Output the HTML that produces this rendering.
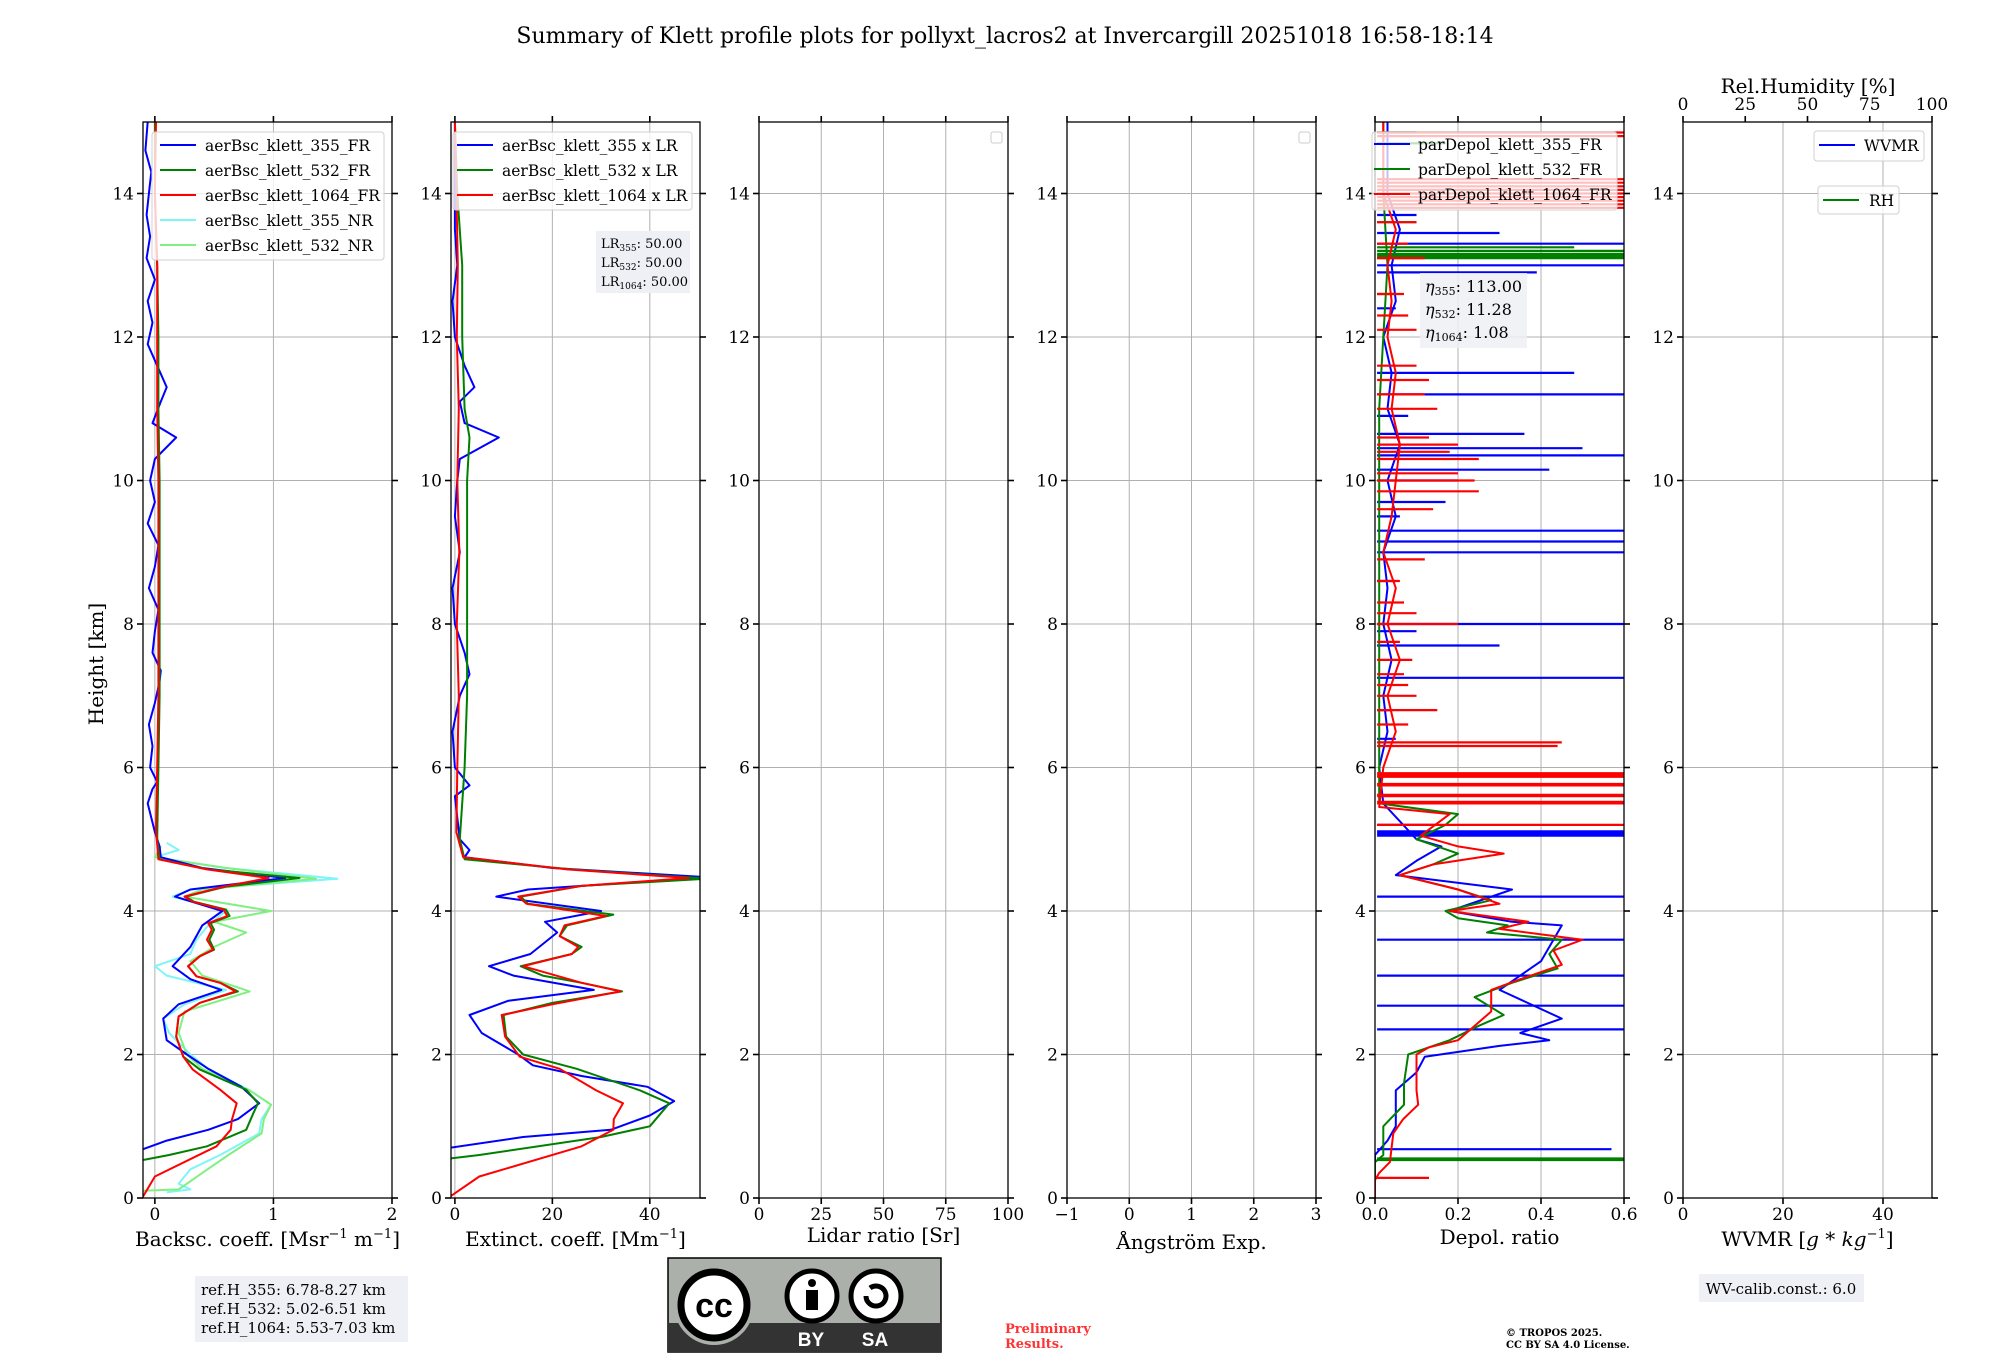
<!DOCTYPE html>
<html><head><meta charset="utf-8"><style>
html,body{margin:0;padding:0;background:#fff;}
svg{display:block;font-family:"DejaVu Serif","Liberation Serif",serif;}
</style></head><body>
<svg id="fig" width="2000" height="1360" viewBox="0 0 2000 1360" xmlns="http://www.w3.org/2000/svg">
<text x="1005" y="43" font-size="22" text-anchor="middle">Summary of Klett profile plots for pollyxt_lacros2 at Invercargill 20251018 16:58-18:14</text>
<text transform="translate(103,664) rotate(-90)" font-size="20" text-anchor="middle">Height [km]</text>
<g id="panels"></g>
<rect x="195" y="1276" width="213" height="66" fill="#eef0f5"/>
<text x="201" y="1295" font-size="15">ref.H_355: 6.78-8.27 km</text>
<text x="201" y="1314" font-size="15">ref.H_532: 5.02-6.51 km</text>
<text x="201" y="1333" font-size="15">ref.H_1064: 5.53-7.03 km</text>
<g>
<rect x="668" y="1258" width="273" height="94" fill="#abb1aa" stroke="#000" stroke-width="1.5"/>
<rect x="668" y="1323" width="273" height="29" fill="#333"/>
<circle cx="714" cy="1305" r="40" fill="#abb1aa"/>
<circle cx="714" cy="1305" r="33" fill="#fff" stroke="#000" stroke-width="7"/>
<text x="714" y="1317" font-size="34" font-weight="bold" text-anchor="middle" font-family="Liberation Sans, sans-serif">cc</text>
<circle cx="812" cy="1296" r="25" fill="#fff" stroke="#000" stroke-width="5"/>
<circle cx="812" cy="1283" r="4" fill="#000"/>
<rect x="806" y="1290" width="12" height="20" fill="#000"/>
<circle cx="876" cy="1296" r="25" fill="#fff" stroke="#000" stroke-width="5"/>
<path d="M866 1296 a10 10 0 1 0 4 -8" fill="none" stroke="#000" stroke-width="5"/>
<text x="811" y="1346" font-size="19" font-weight="bold" fill="#fff" text-anchor="middle" font-family="Liberation Sans, sans-serif">BY</text>
<text x="875" y="1346" font-size="19" font-weight="bold" fill="#fff" text-anchor="middle" font-family="Liberation Sans, sans-serif">SA</text>
</g>
<text x="1005" y="1333" font-size="13" font-weight="bold" fill="#ff3333">Preliminary</text>
<text x="1005" y="1348" font-size="13" font-weight="bold" fill="#ff3333">Results.</text>
<text x="1506" y="1336" font-size="10" font-weight="bold">© TROPOS 2025.</text>
<text x="1506" y="1348" font-size="10" font-weight="bold">CC BY SA 4.0 License.</text>
<rect x="1699" y="1274" width="165" height="28" fill="#eef0f5"/>
<text x="1781" y="1294" font-size="15" text-anchor="middle">WV-calib.const.: 6.0</text>
</svg>
<script>
// ---------- data ----------
const heightTicks = [0,2,4,6,8,10,12,14];
// Panel 1: backscatter
const bsc355FR_h = [0.68,0.8,0.95,1.1,1.32,1.55,1.8,2.0,2.2,2.5,2.7,2.9,3.05,3.23,3.5,3.8,4.0,4.2,4.3,4.46,4.6,4.75,4.9,5.1,5.3,5.5,5.7,5.8,6.0,6.3,6.6,6.9,7.2,7.35,7.6,7.9,8.2,8.5,8.8,9.1,9.4,9.7,10.0,10.3,10.6,10.8,11.1,11.3,11.6,11.9,12.2,12.5,12.8,13.1,13.4,13.7,14.0,14.3,14.6,15.0];
const bsc355FR_v = [-0.1,0.1,0.45,0.7,0.88,0.73,0.45,0.27,0.1,0.07,0.2,0.56,0.3,0.15,0.3,0.4,0.57,0.17,0.3,1.1,0.4,0.05,0.04,0.0,-0.03,-0.06,-0.02,0.02,-0.04,-0.02,-0.05,0.0,0.04,0.05,-0.02,0.0,0.03,-0.05,0.0,0.03,-0.06,0.0,-0.04,0.0,0.18,-0.02,0.05,0.1,0.02,-0.06,-0.02,-0.06,0.0,-0.07,-0.04,-0.07,-0.05,-0.03,-0.08,-0.06];
const bsc532FR_h = [0.53,0.6,0.72,0.95,1.18,1.32,1.51,1.79,1.97,2.25,2.53,2.72,2.88,3.0,3.09,3.23,3.37,3.46,3.6,3.74,3.83,3.93,4.02,4.13,4.2,4.34,4.46,4.58,4.72,5.0,6,7,8,9,10,11,12,13,14,15];
const bsc532FR_v = [-0.1,0.12,0.44,0.77,0.83,0.87,0.77,0.38,0.24,0.18,0.2,0.38,0.7,0.55,0.35,0.28,0.38,0.5,0.46,0.5,0.47,0.63,0.6,0.33,0.26,0.6,1.22,0.45,0.04,0.02,0.03,0.04,0.04,0.04,0.04,0.03,0.03,0.02,0.0,0.0];
const bsc1064FR_h = [0.02,0.3,0.72,0.95,1.09,1.32,1.51,1.79,1.97,2.25,2.53,2.72,2.88,3.0,3.09,3.23,3.37,3.46,3.6,3.74,3.83,3.93,4.02,4.13,4.2,4.34,4.46,4.58,4.72,5.13,6,7,8,9,10,11,12,13,14,15];
const bsc1064FR_v = [-0.1,0.0,0.52,0.64,0.65,0.69,0.55,0.32,0.24,0.18,0.2,0.38,0.68,0.55,0.35,0.28,0.38,0.49,0.44,0.48,0.45,0.61,0.58,0.32,0.25,0.58,0.96,0.44,0.03,0.01,0.02,0.03,0.03,0.03,0.03,0.02,0.02,0.02,0.0,0.01];
const bsc355NR_h = [0.08,0.12,0.2,0.4,0.6,0.9,1.1,1.3,1.5,1.8,2.0,2.3,2.5,2.7,2.9,3.1,3.23,3.4,3.6,3.8,4.0,4.2,4.3,4.45,4.6,4.75,4.85,4.95];
const bsc355NR_v = [0.1,0.3,0.2,0.3,0.55,0.88,0.9,0.98,0.8,0.45,0.3,0.12,0.07,0.25,0.6,0.1,0.0,0.3,0.35,0.45,0.6,0.15,0.3,1.54,0.6,0.0,0.2,0.1];
const bsc532NR_h = [0.1,0.12,0.35,0.6,0.9,1.1,1.3,1.5,1.8,2.0,2.3,2.6,2.88,3.1,3.3,3.5,3.7,3.85,4.0,4.2,4.3,4.45,4.6,4.75,4.9];
const bsc532NR_v = [-0.1,0.2,0.4,0.62,0.9,0.92,0.98,0.8,0.4,0.27,0.2,0.25,0.8,0.4,0.3,0.5,0.77,0.5,0.98,0.25,0.4,1.36,0.6,0.0,0.05];
// Panel 2: extinction
const ext355_h = [0.7,0.85,0.95,1.15,1.35,1.55,1.7,1.85,2.0,2.3,2.55,2.75,2.9,3.1,3.23,3.4,3.7,3.85,4.0,4.2,4.3,4.47,4.6,4.75,4.85,5.0,5.3,5.6,5.75,6,6.5,7,7.3,7.6,8,8.5,9,9.5,10,10.3,10.6,10.8,11.1,11.3,11.6,12,12.5,13,13.5,14,14.5,15];
const ext355_v = [-1,14,32,40,45,39.5,26,16,13,5.5,3,11,28.5,12,7,15.5,21,18.5,30,8.5,15,52,20,2,3,1,0.5,0,3,0,-0.5,1,3,2,0,-0.5,1,0,0.5,1,9,2,1,4,2,0,-0.5,0.5,0,0,0,0];
const ext532_h = [0.55,0.6,0.85,1.0,1.32,1.5,1.8,2.0,2.25,2.55,2.72,2.88,3.0,3.1,3.23,3.4,3.5,3.65,3.8,3.95,4.1,4.2,4.35,4.45,4.58,4.72,5.0,6,7,8,9,10,10.6,11,12,13,14,15];
const ext532_v = [-1,5,30,40,44,38,25,14,10.5,10,20,34.3,26,18,13.5,24,26,21.5,23,32.5,15,13.5,26,52,24,2,1,2,2.5,2.5,2.5,2.5,3,2,1.5,1.5,0.5,0];
const ext1064_h = [0.02,0.3,0.72,0.95,1.1,1.32,1.5,1.8,1.97,2.25,2.55,2.7,2.88,3.0,3.23,3.4,3.5,3.65,3.8,3.93,4.1,4.2,4.35,4.46,4.58,4.75,5.1,6,7,8,9,10,11,12,13,14,15];
const ext1064_v = [-1,5,26,32.5,32.6,34.5,29,21.5,13.3,10.3,9.6,20,34,26,14,24,25.3,21.5,22.5,31,14.7,13,26,48,23,1.7,0.3,0.5,0.8,0.4,0.9,0.5,0.8,0.4,0.6,0.3,0];
// Panel 5: depolarisation
const dep355_h = [0.0,0.6,0.8,1.0,1.5,1.75,1.97,2.12,2.2,2.3,2.5,2.9,3.3,3.8,3.85,4.0,4.3,4.5,4.7,4.9,5.0,5.5,6,6.5,7,7.5,8,8.5,9,9.5,10,10.5,11,11.5,12,12.5,13,13.5,14,15];
const dep355_v = [0.0,0.0,0.03,0.05,0.05,0.1,0.12,0.3,0.42,0.35,0.45,0.3,0.4,0.45,0.33,0.18,0.33,0.05,0.1,0.16,0.1,0.02,0.01,0.03,0.02,0.04,0.02,0.03,0.02,0.05,0.03,0.06,0.03,0.04,0.02,0.05,0.04,0.06,0.03,0.03];
const dep355Spike_h = [0.68,2.35,2.68,3.1,3.6,4.2,5.05,5.07,5.09,5.11,5.2,6.4,6.8,7.25,7.7,7.9,8.0,8.6,9.0,9.15,9.3,9.5,9.7,10.0,10.15,10.35,10.45,10.65,10.9,11.2,11.5,12.4,12.9,13.0,13.3,13.45,13.7];
const dep355Spike_v = [0.57,0.6,0.6,0.6,0.6,0.6,0.6,0.6,0.6,0.6,0.15,0.05,0.04,0.6,0.3,0.1,0.6,0.05,0.6,0.6,0.6,0.06,0.17,0.2,0.42,0.6,0.5,0.36,0.08,0.6,0.48,0.05,0.39,0.6,0.6,0.3,0.1];
const dep532_h = [0.0,0.5,0.6,0.8,1.0,1.3,1.6,2.0,2.2,2.4,2.55,2.8,3.0,3.2,3.4,3.6,3.7,3.8,3.9,4.0,4.15,4.3,4.5,4.65,4.8,5.0,5.2,5.35,5.5,6,7,8,9,10,11,12,13,14,15];
const dep532_v = [0.0,0.0,0.02,0.02,0.02,0.07,0.07,0.08,0.18,0.25,0.31,0.24,0.33,0.44,0.42,0.45,0.27,0.32,0.2,0.17,0.28,0.2,0.06,0.14,0.2,0.1,0.17,0.2,0.01,0.01,0.01,0.01,0.01,0.01,0.01,0.02,0.03,0.02,0.02];
const dep532Spike_h = [0.53,0.55,12.6,13.1,13.13,13.16,13.2,13.25,13.6,14.85,14.7];
const dep532Spike_v = [0.6,0.6,0.05,0.6,0.6,0.6,0.6,0.48,0.1,0.1,0.17];
const dep1064_h = [0.02,0.25,0.35,0.5,0.9,1.1,1.3,1.5,1.75,2.0,2.1,2.2,2.45,2.6,2.9,3.05,3.25,3.45,3.6,3.75,3.85,4.0,4.1,4.3,4.5,4.65,4.8,4.9,5.05,5.35,5.45,6,6.5,7,7.5,8,8.5,9,9.5,10,10.5,11,11.5,12,12.5,13,13.5,14,15];
const dep1064_v = [0.0,0.0,0.01,0.036,0.044,0.068,0.104,0.1,0.1,0.1,0.13,0.2,0.25,0.28,0.28,0.35,0.45,0.43,0.5,0.3,0.37,0.18,0.3,0.2,0.06,0.14,0.31,0.2,0.11,0.18,0.01,0.02,0.05,0.03,0.06,0.03,0.05,0.02,0.04,0.05,0.06,0.04,0.05,0.03,0.04,0.03,0.05,0.02,0.02];
const dep1064Spike_h = [0.28,5.2,5.5,5.52,5.6,5.62,5.75,5.77,5.87,5.9,5.92,6.3,6.35,6.6,6.8,7.0,7.15,7.3,7.5,7.75,8.0,8.15,8.3,8.6,8.9,9.6,9.85,10.0,10.1,10.3,10.4,10.5,10.6,11.0,11.2,11.4,11.6,12.1,12.3,12.6,13.1,13.3,13.6,13.8,13.85,13.9,13.95,14.0,14.05,14.1,14.15,14.2,14.8,14.85];
const dep1064Spike_v = [0.13,0.6,0.6,0.6,0.6,0.6,0.6,0.6,0.6,0.6,0.6,0.44,0.45,0.08,0.15,0.1,0.08,0.07,0.09,0.06,0.2,0.1,0.07,0.06,0.12,0.14,0.25,0.24,0.2,0.25,0.18,0.2,0.13,0.15,0.12,0.13,0.1,0.1,0.08,0.07,0.12,0.08,0.1,0.6,0.6,0.6,0.6,0.6,0.6,0.6,0.6,0.6,0.6,0.6];
// axis ticks
const p1Ticks = [0,1,2];
const p2Ticks = [0,20,40];
const p3Ticks = [0,25,50,75,100];
const p4Ticks = [-1,0,1,2,3];
const p5Ticks = [0.0,0.2,0.4,0.6];
const p5TickLabels = ["0.0","0.2","0.4","0.6"];
const p6Ticks = [0,20,40];
const p6TopTicks = [0,25,50,75,100];

// ---------- drawing ----------
const NS = "http://www.w3.org/2000/svg";
const root = document.getElementById('panels');
const TOP = 122, Y0 = 1198, PXKM = 71.75, W = 249;
function yScale(h){ return Y0 - h*PXKM; }
function mk(tag, attrs, parent){
  const e = document.createElementNS(NS, tag);
  for (const k in attrs) e.setAttribute(k, attrs[k]);
  (parent||root).appendChild(e);
  return e;
}
function fmt(t){ return String(t).replace('-', '\u2212'); }

function panel(i, xmin, xmax, ticks, labels, name, xlabel, labelY){
  const L = 143 + 308*i, R = L + W;
  const g = mk('g', {});
  
  
  const xs = v => L + (v - xmin)/(xmax - xmin)*W;
  const cid = 'clip'+i;
  const cp = mk('clipPath', {id: cid}, g);
  mk('rect', {x: L, y: TOP, width: W, height: Y0-TOP}, cp);
  ticks.forEach(t => {
    const x = xs(t);
    if (Math.abs(x-L) > 1 && Math.abs(x-R) > 1) {
      const gl = mk('line', {x1:x, x2:x, y1:TOP, y2:Y0, stroke:'#b0b0b0', 'stroke-width':1}, g);
      
      
    }
  });
  heightTicks.forEach(h => {
    if (h === 0) return;
    const y = yScale(h);
    const gl = mk('line', {x1:L, x2:R, y1:y, y2:y, stroke:'#b0b0b0', 'stroke-width':1}, g);
    
    
  });
  const plot = mk('g', {'clip-path': 'url(#'+cid+')'}, g);
  mk('rect', {x:L, y:TOP, width:W, height:Y0-TOP, fill:'none', stroke:'#000', 'stroke-width':1.3}, g);
  heightTicks.forEach(h => {
    const y = yScale(h);
    mk('line', {x1:L-6, x2:L, y1:y, y2:y, stroke:'#000', 'stroke-width':1.6}, g);
    mk('line', {x1:R, x2:R+6, y1:y, y2:y, stroke:'#000', 'stroke-width':1.6}, g);
    const t = mk('text', {x:L-9, y:y+6, 'font-size':17, 'text-anchor':'end'}, g);
    t.textContent = h;
    
    
  });
  ticks.forEach((v, k) => {
    const x = xs(v);
    mk('line', {x1:x, x2:x, y1:Y0, y2:Y0+6, stroke:'#000', 'stroke-width':1.6}, g);
    if (i !== 5) mk('line', {x1:x, x2:x, y1:TOP-6, y2:TOP, stroke:'#000', 'stroke-width':1.6}, g);
    const t = mk('text', {x:x, y:Y0+22, 'font-size':17, 'text-anchor':'middle'}, g);
    t.textContent = labels ? labels[k] : fmt(v);
    
    
  });
  const xl = mk('text', {x:L+W/2, y:labelY, 'font-size':20, 'text-anchor':'middle'}, g);
  xl.innerHTML = xlabel;
  
  
  return {g, plot, xs, L, R};
}
function line(p, hs, vs, color, name, w){
  let d = '';
  hs.forEach((h, k) => { d += (k ? 'L' : 'M') + p.xs(vs[k]).toFixed(1) + ' ' + yScale(h).toFixed(1); });
  const e = mk('path', {d, fill:'none', stroke:color, 'stroke-width':w||2, 'stroke-linejoin':'round'}, p.plot);
  
  
}
function spikes(p, hs, vs, color, name){
  let d = '';
  hs.forEach((h, k) => { const y = yScale(h).toFixed(1); d += 'M' + p.xs(0.005).toFixed(1) + ' ' + y + 'L' + p.xs(vs[k]).toFixed(1) + ' ' + y; });
  const e = mk('path', {d, fill:'none', stroke:color, 'stroke-width':2.2}, p.plot);
  
  
}
function legend(p, x, y, w, h, items, name, textX, alpha){
  const lg = mk('g', {}, p.g);
  
  
  mk('rect', {x, y, width:w, height:h, rx:3, fill:'#fff', 'fill-opacity':alpha||0.8, stroke:'#d0d0d0', 'stroke-width':1}, lg);
  items.forEach((it, k) => {
    const yy = it[2];
    mk('line', {x1:it[3], x2:it[3]+36, y1:yy, y2:yy, stroke:it[1], 'stroke-width':2}, lg);
    const t = mk('text', {x:textX, y:yy+6, 'font-size':15.5}, lg);
    t.textContent = it[0];
    
    
  });
}

// Panel 1
const p1 = panel(0, -0.1, 2.0, p1Ticks, null, 'backscatter-panel', 'Backsc. coeff. [Msr<tspan dy="-8" font-size="13">−1</tspan><tspan dy="8"> m</tspan><tspan dy="-8" font-size="13">−1</tspan><tspan dy="8">]</tspan>', 1246);
line(p1, bsc355NR_h, bsc355NR_v, '#7ff5f5', 'bsc-355-nr-line');
line(p1, bsc532NR_h, bsc532NR_v, '#80f080', 'bsc-532-nr-line');
line(p1, bsc355FR_h, bsc355FR_v, '#0000ff', 'bsc-355-fr-line');
line(p1, bsc532FR_h, bsc532FR_v, '#008000', 'bsc-532-fr-line');
line(p1, bsc1064FR_h, bsc1064FR_v, '#ff0000', 'bsc-1064-fr-line');
legend(p1, 152, 132, 232, 128, [
  ['aerBsc_klett_355_FR', '#0000ff', 145, 160],
  ['aerBsc_klett_532_FR', '#008000', 170, 160],
  ['aerBsc_klett_1064_FR', '#ff0000', 195, 160],
  ['aerBsc_klett_355_NR', '#7ff5f5', 220, 160],
  ['aerBsc_klett_532_NR', '#80f080', 245, 160]], 'backscatter-legend', 205);

// Panel 2
const p2 = panel(1, -0.8, 50.3, p2Ticks, null, 'extinction-panel', 'Extinct. coeff. [Mm<tspan dy="-8" font-size="13">−1</tspan><tspan dy="8">]</tspan>', 1246);
line(p2, ext355_h, ext355_v, '#0000ff', 'ext-355-line');
line(p2, ext532_h, ext532_v, '#008000', 'ext-532-line');
line(p2, ext1064_h, ext1064_v, '#ff0000', 'ext-1064-line');
legend(p2, 453, 132, 239, 78, [
  ['aerBsc_klett_355 x LR', '#0000ff', 145, 457],
  ['aerBsc_klett_532 x LR', '#008000', 170, 457],
  ['aerBsc_klett_1064 x LR', '#ff0000', 195, 457]], 'extinction-legend', 502);
(function(){
  const b = mk('g', {}, p2.g);
  
  
  mk('rect', {x:596, y:231, width:94, height:62, fill:'#eef0f5'}, b);
  [['355',248],['532',267],['1064',286]].forEach(r => {
    const t = mk('text', {x:601, y:r[1], 'font-size':13}, b);
    t.innerHTML = 'LR<tspan font-size="9" dy="3">' + r[0] + '</tspan><tspan dy="-3">: 50.00</tspan>';
  });
})();

// Panel 3, 4 (empty)
const p3 = panel(2, 0, 100, p3Ticks, null, 'lidar-ratio-panel', 'Lidar ratio [Sr]', 1242);
const p4 = panel(3, -1, 3, p4Ticks, null, 'angstrom-panel', 'Ångström Exp.', 1249);
[p3, p4].forEach((p, k) => {
  const e = mk('rect', {x:p.R-17, y:132, width:11, height:11, rx:2, fill:'#fff', stroke:'#ccc'}, p.g);
  
  
});

// Panel 5
const p5 = panel(4, 0, 0.6, p5Ticks, p5TickLabels, 'depol-panel', 'Depol. ratio', 1244);
line(p5, dep355_h, dep355_v, '#0000ff', 'depol-355-line');
spikes(p5, dep355Spike_h, dep355Spike_v, '#0000ff', 'depol-355-spikes');
line(p5, dep532_h, dep532_v, '#008000', 'depol-532-line');
spikes(p5, dep532Spike_h, dep532Spike_v, '#008000', 'depol-532-spikes');
line(p5, dep1064_h, dep1064_v, '#ff0000', 'depol-1064-line');
spikes(p5, dep1064Spike_h, dep1064Spike_v, '#ff0000', 'depol-1064-spikes');
legend(p5, 1372, 132, 245, 78, [
  ['parDepol_klett_355_FR', '#0000ff', 144, 1374],
  ['parDepol_klett_532_FR', '#008000', 169, 1374],
  ['parDepol_klett_1064_FR', '#ff0000', 194, 1374]], 'depol-legend', 1418, 0.75);
(function(){
  const b = mk('g', {}, p5.g);
  
  
  mk('rect', {x:1420, y:273, width:107, height:75, fill:'#eef0f5', 'fill-opacity':0.85}, b);
  [['355','113.00',292],['532','11.28',315],['1064','1.08',338]].forEach(r => {
    const t = mk('text', {x:1425, y:r[2], 'font-size':16}, b);
    t.innerHTML = '<tspan font-style="italic">η</tspan><tspan font-size="11" dy="3">' + r[0] + '</tspan><tspan dy="-3">: ' + r[1] + '</tspan>';
  });
})();

// Panel 6
const p6 = panel(5, 0, 49.8, p6Ticks, null, 'wvmr-panel', 'WVMR [<tspan font-style="italic">g</tspan> * <tspan font-style="italic">kg</tspan><tspan dy="-8" font-size="13">−1</tspan><tspan dy="8">]</tspan>', 1246);
p6TopTicks.forEach(v => {
  const x = p6.L + v/100*W;
  mk('line', {x1:x, x2:x, y1:TOP-6, y2:TOP, stroke:'#000', 'stroke-width':1.6}, p6.g);
  const t = mk('text', {x:x, y:TOP-12, 'font-size':17, 'text-anchor':'middle'}, p6.g);
  t.textContent = v;
  
  
});
(function(){
  const t = mk('text', {x:1808, y:93, 'font-size':20, 'text-anchor':'middle'}, p6.g);
  t.textContent = 'Rel.Humidity [%]';
  
  
})();
legend(p6, 1814, 131, 110, 30, [['WVMR', '#0000ff', 145, 1819]], 'wvmr-legend', 1864);
legend(p6, 1818, 186, 81, 28, [['RH', '#008000', 200, 1823]], 'rh-legend', 1869);
</script>
</body></html>
